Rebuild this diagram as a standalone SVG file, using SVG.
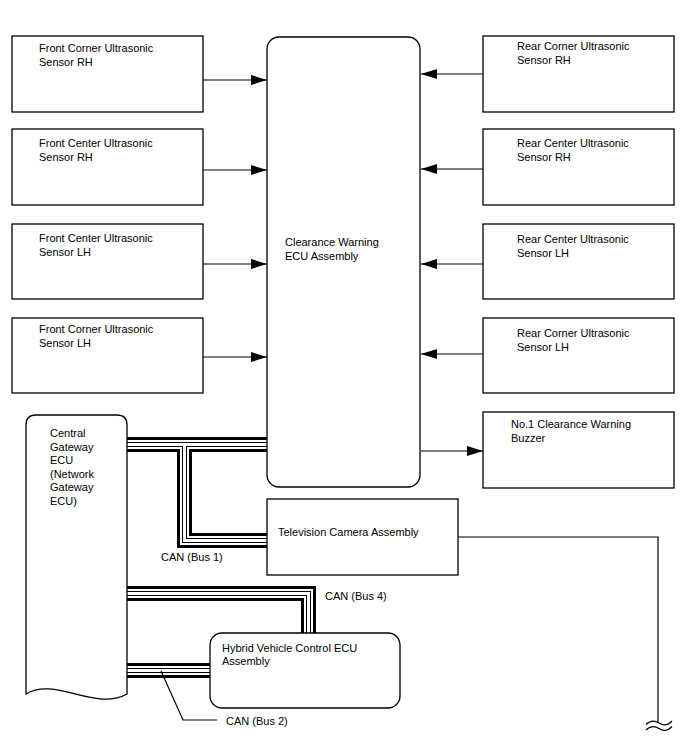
<svg xmlns="http://www.w3.org/2000/svg" xmlns:xlink="http://www.w3.org/1999/xlink" width="688" height="755" viewBox="0 0 688 755">
<defs>
<marker id="ah" viewBox="0 0 16 10" refX="16" refY="5" markerWidth="16" markerHeight="10" markerUnits="userSpaceOnUse" orient="auto">
<path d="M0,0 L16,5 L0,10 Z" fill="#000"/>
</marker>
<path id="bus1a" d="M127,444.5 H267"/>
<path id="bus1b" d="M127,444.5 H184.5 V540.5 H267"/>
<path id="bus4" d="M127,593.5 H308.5 V633"/>
<path id="bus2" d="M127,670.5 H211"/>
</defs>
<style>
.box{fill:#fff;stroke:#000;stroke-width:1.3}
.t{font-family:"Liberation Sans",Arial,sans-serif;font-size:11px;fill:#000}
.ln{fill:none;stroke:#000;stroke-width:1.2}
.arr{fill:none;stroke:#000;stroke-width:1.2;marker-end:url(#ah)}
.b1{fill:none;stroke:#000;stroke-width:15;stroke-linejoin:miter}
.w1{fill:none;stroke:#fff;stroke-width:9;stroke-linejoin:miter}
.b2{fill:none;stroke:#000;stroke-width:5;stroke-linejoin:miter}
.w2{fill:none;stroke:#fff;stroke-width:3;stroke-linejoin:miter}
</style>
<rect width="688" height="755" fill="#fff"/>

<g id="connectors">
<line class="arr" x1="203" y1="80" x2="267" y2="80"/>
<line class="arr" x1="203" y1="170" x2="267" y2="170"/>
<line class="arr" x1="203" y1="264" x2="267" y2="264"/>
<line class="arr" x1="203" y1="357" x2="267" y2="357"/>
<line class="arr" x1="483" y1="74" x2="421" y2="74"/>
<line class="arr" x1="483" y1="169" x2="421" y2="169"/>
<line class="arr" x1="483" y1="264" x2="421" y2="264"/>
<line class="arr" x1="483" y1="354" x2="421" y2="354"/>
<line class="arr" x1="421" y1="451" x2="483" y2="451"/>
<g id="can-bus">
<use xlink:href="#bus1a" class="b1"/><use xlink:href="#bus1b" class="b1"/><use xlink:href="#bus4" class="b1"/><use xlink:href="#bus2" class="b1"/>
<use xlink:href="#bus1a" class="w1"/><use xlink:href="#bus1b" class="w1"/><use xlink:href="#bus4" class="w1"/><use xlink:href="#bus2" class="w1"/>
<use xlink:href="#bus1a" class="b2"/><use xlink:href="#bus1b" class="b2"/><use xlink:href="#bus4" class="b2"/><use xlink:href="#bus2" class="b2"/>
<use xlink:href="#bus1a" class="w2"/><use xlink:href="#bus1b" class="w2"/><use xlink:href="#bus4" class="w2"/><use xlink:href="#bus2" class="w2"/>
</g>
<path class="ln" d="M458,537 H658 V722"/>
<path class="ln" d="M646,724.5 q6,-6 13,-1.5 t13,-2"/>
<path class="ln" d="M646,730 q6,-6 13,-1.5 t13,-2"/>
<path class="ln" d="M161,671 L183,720 H217"/>
<text class="t" x="161" y="561">CAN (Bus 1)</text>
<text class="t" x="325" y="600">CAN (Bus 4)</text>
<text class="t" x="226" y="725">CAN (Bus 2)</text>
</g>

<g id="ecu">
<rect class="box" x="267" y="37" width="153" height="450" rx="12"/>
<text class="t" x="285" y="246">Clearance Warning</text>
<text class="t" x="285" y="260">ECU Assembly</text>
</g>

<g id="fcrh"><rect class="box" x="12" y="36" width="191" height="76"/>
<text class="t" x="39" y="52">Front Corner Ultrasonic</text><text class="t" x="39" y="66">Sensor RH</text></g>
<g id="fcnrh"><rect class="box" x="12" y="129" width="191" height="76"/>
<text class="t" x="39" y="147">Front Center Ultrasonic</text><text class="t" x="39" y="161">Sensor RH</text></g>
<g id="fcnlh"><rect class="box" x="12" y="224" width="191" height="75"/>
<text class="t" x="39" y="242">Front Center Ultrasonic</text><text class="t" x="39" y="256">Sensor LH</text></g>
<g id="fclh"><rect class="box" x="12" y="318" width="191" height="75"/>
<text class="t" x="39" y="333">Front Corner Ultrasonic</text><text class="t" x="39" y="347">Sensor LH</text></g>

<g id="rcrh"><rect class="box" x="483" y="36" width="191" height="76"/>
<text class="t" x="517" y="50">Rear Corner Ultrasonic</text><text class="t" x="517" y="64">Sensor RH</text></g>
<g id="rcnrh"><rect class="box" x="483" y="129" width="191" height="76"/>
<text class="t" x="517" y="147">Rear Center Ultrasonic</text><text class="t" x="517" y="161">Sensor RH</text></g>
<g id="rcnlh"><rect class="box" x="483" y="224" width="191" height="75"/>
<text class="t" x="517" y="243">Rear Center Ultrasonic</text><text class="t" x="517" y="257">Sensor LH</text></g>
<g id="rclh"><rect class="box" x="483" y="318" width="191" height="75"/>
<text class="t" x="517" y="337">Rear Corner Ultrasonic</text><text class="t" x="517" y="351">Sensor LH</text></g>

<g id="buzzer"><rect class="box" x="483" y="412" width="191" height="76"/>
<text class="t" x="511" y="428">No.1 Clearance Warning</text><text class="t" x="511" y="442">Buzzer</text></g>

<g id="tv"><rect class="box" x="267" y="499" width="191" height="76"/>
<text class="t" x="278" y="536">Television Camera Assembly</text></g>

<g id="hv"><rect class="box" x="210" y="633" width="190" height="75" rx="12"/>
<text class="t" x="222" y="651.5">Hybrid Vehicle Control ECU</text><text class="t" x="222" y="665">Assembly</text></g>

<g id="gateway">
<path class="box" d="M26,694 V425 Q26,415 36,415 H117 Q127,415 127,425 V694 C95,712 55,676 26,694 Z"/>
<text class="t" x="50" y="437">Central</text>
<text class="t" x="50" y="450.5">Gateway</text>
<text class="t" x="50" y="464">ECU</text>
<text class="t" x="50" y="477.5">(Network</text>
<text class="t" x="50" y="491">Gateway</text>
<text class="t" x="50" y="504.5">ECU)</text>
</g>
</svg>
